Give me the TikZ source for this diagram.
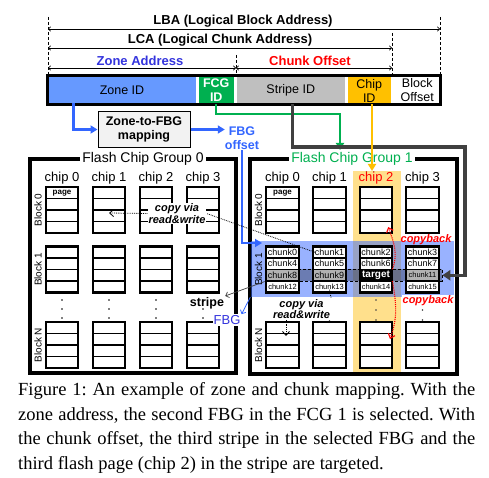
\documentclass[tikz,border=0pt]{standalone}
\usepackage{fontspec}
\setmainfont{Liberation Sans}
\newfontfamily\capfont{Liberation Serif}
\usetikzlibrary{calc,arrows.meta}
\definecolor{zoneblue}{HTML}{6699FF}
\definecolor{fcggreen}{HTML}{00B050}
\definecolor{stripegray}{HTML}{BFBFBF}
\definecolor{chiporange}{HTML}{FFC000}
\definecolor{offblue}{HTML}{3366FF}
\definecolor{addrblue}{HTML}{3333DD}
\definecolor{darkgr}{HTML}{404040}
\definecolor{colorange}{HTML}{FFE08C}
\definecolor{mapfill}{HTML}{F2F2F2}
\frenchspacing
\begin{document}
\begin{tikzpicture}[x=1pt,y=-1pt,
 dimline/.style={line width=0.6pt,{To[length=3pt,width=5pt]}-{To[length=3pt,width=5pt]}},
 guide/.style={line width=0.6pt,densely dashed},
 dimlab/.style={font=\bfseries\fontsize{13}{15}\selectfont,inner sep=0},
 seg/.style={inner sep=0,outer sep=0,minimum height=26,align=center,font=\fontsize{12.5}{14}\selectfont},
 fcgbox/.style={draw,line width=3.2pt,inner sep=0,outer sep=0},
 fcgtitle/.style={fill=white,inner sep=2,font=\fontsize{14}{16}\selectfont},
 chiplab/.style={font=\fontsize{13}{15}\selectfont,inner sep=0},
 blk/.style={draw,fill=white,line width=2.2pt,minimum width=32.5,minimum height=46,inner sep=0,outer sep=0},
 rowline/.style={line width=1.1pt},
 blklab/.style={rotate=90,font=\fontsize{10}{12}\selectfont,inner sep=0},
 chunk/.style={font=\fontsize{9}{10}\selectfont,inner sep=0},
 chunks/.style={font=\fontsize{7.5}{9}\selectfont,inner sep=0},
 pagelab/.style={font=\bfseries\fontsize{8}{9}\selectfont,inner sep=0},
 copylab/.style={font=\bfseries\itshape\fontsize{11}{11.5}\selectfont,align=center,fill=white,inner sep=1},
 cbacklab/.style={font=\bfseries\itshape\fontsize{11}{12}\selectfont,text=red,inner sep=1},
 dotline/.style={line width=0.8pt,densely dotted},
 caprow/.style={anchor=base west,inner sep=0,font=\capfont\fontsize{18.5}{22}\selectfont}
]
\useasboundingbox (0,0) rectangle (489,478);

% ---------- dimension lines ----------
\coordinate (gA1) at (48,17);  \coordinate (gA2) at (48,75);
\coordinate (gB1) at (440,17); \coordinate (gB2) at (440,75);
\coordinate (gC1) at (392,33); \coordinate (gC2) at (392,75);
\coordinate (gD1) at (236,55); \coordinate (gD2) at (236,75);
\draw[guide] (gA1) -- (gA2);
\draw[guide] (gB1) -- (gB2);
\draw[guide] (gC1) -- (gC2);
\draw[guide] (gD1) -- (gD2);
\coordinate (lbaL) at (48,29);  \coordinate (lbaR) at (440,29);
\coordinate (lcaL) at (48,48);  \coordinate (lcaR) at (392,48);
\coordinate (zaL) at (48,68);   \coordinate (zaR) at (236,68);
\coordinate (coR) at (392,68);
\draw[dimline] (lbaL) -- (lbaR);
\draw[dimline] (lcaL) -- (lcaR);
\draw[dimline] (zaL) -- (zaR);
\draw[dimline] (zaR) -- (coR);
\node[dimlab] (lba) at (243,21) {LBA (Logical Block Address)};
\node[dimlab] (lca) at (220,40.5) {LCA (Logical Chunk Address)};
\node[dimlab,text=addrblue] (zaddr) at (140,60.5) {Zone Address};
\node[dimlab,text=red] (coff) at (310,60.5) {Chunk Offset};

% ---------- address bar ----------
\node[seg,fill=zoneblue,minimum width=147] (zone) at (122,90.5) {Zone ID};
\node[seg,fill=fcggreen,minimum width=35.5,text=white,font=\bfseries\fontsize{12.5}{14}\selectfont] (fcg) at (216.25,90.5) {FCG\\ID};
\node[seg,fill=stripegray,minimum width=107.5] (stripe) at (290.75,90.5) {Stripe ID};
\node[seg,fill=chiporange,minimum width=43.5] (chip) at (369.25,90.5) {Chip\\ID};
\node[seg,fill=white,minimum width=46.5] (boff) at (417.25,90.5) {Block\\Offset};
\node[draw,line width=3pt,minimum width=393,minimum height=28.5,inner sep=0,outer sep=0] (bar) at (244,90.25) {};

% ---------- mapping ----------
\node[draw,fill=mapfill,line width=1pt,minimum width=92,minimum height=36,align=center,inner sep=0,
      font=\bfseries\fontsize{12.5}{14}\selectfont] (mapbox) at (144,129.5) {Zone-to-FBG\\mapping};
\node[align=center,inner sep=0,text=offblue,font=\bfseries\fontsize{12.5}{14.5}\selectfont] (fbgoff) at (242,138) {FBG\\offset};

% ---------- flash chip groups ----------
\node[fcgbox,minimum width=206,minimum height=214] (fcg0) at (133,266) {};
\node[fcgbox,minimum width=207,minimum height=215] (fcg1) at (353.5,266.5) {};

% highlight column and band
\node[fill=colorange,minimum width=48,minimum height=201,inner sep=0] (c2col) at (377,271.5) {};
\node[fill=offblue,fill opacity=0.5,minimum width=203,minimum height=56,inner sep=0] (band) at (352,269) {};

\node[fcgtitle] (t0) at (143,159) {Flash Chip Group 0};
\node[fcgtitle,text=fcggreen] (t1) at (352,159) {Flash Chip Group 1};

\foreach \x [count=\i from 0] in {62,109,156,203}{
  \node[chiplab] (f0chip\i) at (\x,178) {chip \i};
}
\foreach \x [count=\i from 0] in {282.5,329.5,376,422.5}{
  \node[chiplab] (f1chip\i) at (\x,178) {chip \i};
}
\node[chiplab,text=red,fill=colorange] (f1chip2) at (376,178) {chip 2};

% blocks
\foreach \x [count=\i from 0] in {62,109,156,203}{
  \foreach \b/\y in {0/210,1/269.5,N/345}{
    \node[blk] (f0b\b c\i) at (\x,\y) {};
    \foreach \r in {0.25,0.5,0.75}
      \draw[rowline] ($(f0b\b c\i.north west)!\r!(f0b\b c\i.south west)$) -- ($(f0b\b c\i.north east)!\r!(f0b\b c\i.south east)$);
  }
  \foreach \yy in {300,309,318}
    \fill (\x,\yy) circle (0.9);
}
\foreach \x [count=\i from 0] in {282.5,329.5,376,422.5}{
  \foreach \b/\y in {0/210,1/269.5,N/345}{
    \node[blk] (f1b\b c\i) at (\x,\y) {};
    \foreach \r in {0.25,0.5,0.75}
      \draw[rowline] ($(f1b\b c\i.north west)!\r!(f1b\b c\i.south west)$) -- ($(f1b\b c\i.north east)!\r!(f1b\b c\i.south east)$);
  }
}
\foreach \x in {329.5,376,422.5}
  \foreach \yy in {300,310,320}
    \fill[darkgr] (\x,\yy) circle (0.9);

\node[pagelab] (page0) at (62,193) {page};
\node[pagelab] (page1) at (282.5,193) {page};

\node[blklab] (bl00) at (38,210) {Block 0};
\node[blklab] (bl01) at (38,269.5) {Block 1};
\node[blklab] (bl0N) at (38,345) {Block N};
\node[blklab] (bl10) at (258.5,210) {Block 0};
\node[blklab] (bl11) at (258.5,269.5) {Block 1};
\node[blklab] (bl1N) at (258.5,345) {Block N};

% chunks
\node[chunk] (chunk0) at (282.5,252.25) {chunk0};
\node[chunk] (chunk1) at (329.5,252.25) {chunk1};
\node[chunk] (chunk2) at (376,252.25) {chunk2};
\node[chunk] (chunk3) at (422.5,252.25) {chunk3};
\node[chunk] (chunk4) at (282.5,263.75) {chunk4};
\node[chunk] (chunk5) at (329.5,263.75) {chunk5};
\node[chunk] (chunk6) at (376,263.75) {chunk6};
\node[chunk] (chunk7) at (422.5,263.75) {chunk7};
\node[chunk] (chunk8) at (282.5,275.25) {chunk8};
\node[chunk] (chunk9) at (329.5,275.25) {chunk9};
\node[chunks] (chunk11) at (422.5,275.25) {chunk11};
\node[chunks] (chunk12) at (282.5,286.75) {chunk12};
\node[chunks] (chunk13) at (329.5,286.75) {chunk13};
\node[chunks] (chunk14) at (376,286.75) {chunk14};
\node[chunks] (chunk15) at (422.5,286.75) {chunk15};

% stripe overlay and target
\node[draw,densely dashed,line width=0.6pt,fill=black,fill opacity=0.3,draw opacity=1,minimum width=177,minimum height=12,inner sep=0] (stripebox) at (353.5,275.25) {};
\node[fill=black,minimum width=32.5,minimum height=11.5,inner sep=0,text=white,font=\bfseries\fontsize{10}{11}\selectfont] (target) at (376,275.25) {target};

% ---------- connectors ----------
\draw[offblue,line width=2.6pt,-{Triangle[length=7pt,width=8pt]}] ([xshift=25]zone.south west) |- (mapbox.west);
\draw[offblue,line width=2.6pt,-{Triangle[length=7pt,width=8pt]}] (mapbox.east) -- (mapbox.east -| fbgoff.west);
\coordinate (bandin) at (262,243);
\draw[offblue,line width=2.6pt,-{Triangle[length=7pt,width=8pt]}] (fbgoff.south) |- (bandin);
\coordinate (gturn) at (340,114);
\coordinate (gtip) at (340,150);
\draw[fcggreen,line width=2.4pt,-{Triangle[length=7pt,width=8pt]}] (fcg.south |- bar.south) |- (gturn) -- (gtip);
\coordinate (kturn) at (465,147);
\draw[darkgr,line width=3.2pt,-{Triangle[length=8pt,width=10pt]}] ([xshift=2]stripe.south |- bar.south) |- (kturn) |- (stripebox.east);
\coordinate (otip) at (372,171);
\draw[chiporange,line width=2.4pt,-{Triangle[length=7pt,width=8pt]}] (otip |- bar.south) -- (otip);

% copy via read&write
\node[copylab] (copy0) at (177,213.5) {copy via\\read\&write};
\draw[dotline] (chunk1.west) -- (copy0.east);
\draw[dotline,-{Straight Barb[length=4pt,width=7pt]}] (copy0.west) -- ($(f0b0c1.center)+(0,3)$);
\node[copylab] (copy1) at (301.5,309) {copy via\\read\&write};
\draw[dotline] (chunk13.south) -- (copy1.north east);
\draw[dotline,-{Straight Barb[length=4pt,width=7pt]}] (copy1.south -| f1bNc0.center) ++(3.5,0) -- ($(f1bNc0.center)+(3.5,-9)$);

% copyback
\draw[red,line width=1.1pt,densely dotted,-{Straight Barb[length=4pt,width=7pt]}] (target.north east) to[out=70,in=-70] ($(f1b0c2.south east)+(-4,-6)$);
\draw[red,line width=1.1pt,densely dotted,-{Straight Barb[length=4pt,width=7pt]}] (target.south east) to[out=-80,in=70] ($(f1bNc2.center)+(14,-6)$);
\node[cbacklab] (cb1) at (426,240) {copyback};
\node[cbacklab,fill=white] (cb2) at (428,301) {copyback};

% stripe / FBG labels
\node[inner sep=1,font=\bfseries\fontsize{12.5}{14}\selectfont] (stripelab) at (207,303) {stripe};
\draw[darkgr,line width=0.7pt,-{Straight Barb[length=3pt,width=6pt]}] (stripebox.south west) -- (stripelab.north east);
\node[inner sep=1,fill=white,text=addrblue,font=\fontsize{13}{15}\selectfont] (fbglab) at (227,320) {FBG};
\draw[offblue,line width=0.8pt,-{Straight Barb[length=3pt,width=6pt]}] (band.south west) -- (fbglab.north east);

% ---------- caption ----------
\node[caprow] (cap1) at (18,395.5) {\makebox[457pt][s]{Figure 1: An example of zone and chunk mapping. With the}};
\node[caprow] (cap2) at (18,420) {\makebox[457pt][s]{zone address, the second FBG in the FCG 1 is selected. With}};
\node[caprow] (cap3) at (18,444.5) {\makebox[457pt][s]{the chunk offset, the third stripe in the selected FBG and the}};
\node[caprow] (cap4) at (18,469) {third flash page (chip 2) in the stripe are targeted.};
\end{tikzpicture}
\end{document}
